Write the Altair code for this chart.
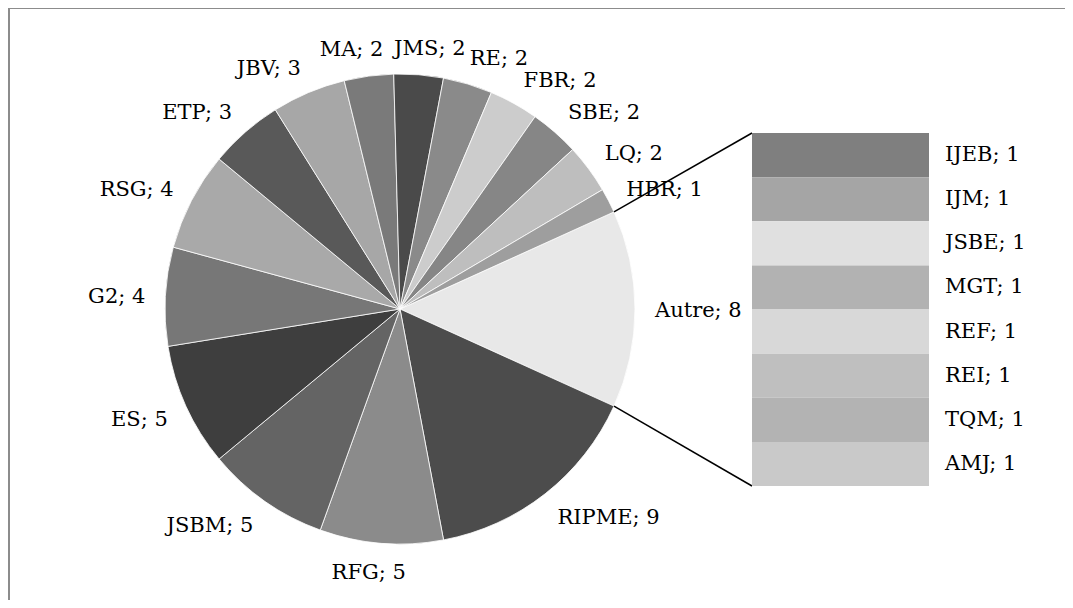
import math
import altair as alt
import pandas as pd

# ---- data ----
pie_names = ["Autre", "RIPME", "RFG", "JSBM", "ES", "G2", "RSG", "ETP", "JBV",
             "MA", "JMS", "RE", "FBR", "SBE", "LQ", "HBR"]
pie_values = [8, 9, 5, 5, 5, 4, 4, 3, 3, 2, 2, 2, 2, 2, 2, 1]
pie_colors = ["#e8e8e8", "#4c4c4c", "#8b8b8b", "#646464", "#3e3e3e", "#777777",
              "#a9a9a9", "#595959", "#a7a7a7", "#7a7a7a", "#4a4a4a", "#8a8a8a",
              "#cccccc", "#868686", "#bebebe", "#9e9e9e"]

bar_names = ["IJEB", "IJM", "JSBE", "MGT", "REF", "REI", "TQM", "AMJ"]
bar_values = [1, 1, 1, 1, 1, 1, 1, 1]
bar_colors = ["#7f7f7f", "#a5a5a5", "#e0e0e0", "#b2b2b2", "#d8d8d8", "#bfbfbf",
              "#b3b3b3", "#c9c9c9"]

# ---- layout ----
W, H = 1057, 592
CX, CY, R = 392, 301, 235      # pie centre / radius (px)
RL = 255                        # label anchor radius
BX0, BX1, BY0, BY1 = 744, 921, 125, 478   # bar column box
FONT = "DejaVu Serif"
FS = 21

total = sum(pie_values)
other = pie_values[pie_names.index("Autre")]
start = math.pi / 2 - math.pi * other / total   # "Autre" centred on the right
a1 = start + 2 * math.pi * other / total

pie_df = pd.DataFrame({
    "idx": list(range(len(pie_names))),
    "name": pie_names,
    "value": pie_values,
})
pie_df["label"] = pie_df["name"] + "; " + pie_df["value"].astype(str)

bar_df = pd.DataFrame({
    "idx": list(range(len(bar_names))),
    "name": bar_names,
    "value": bar_values,
})
bar_df["label"] = bar_df["name"] + "; " + bar_df["value"].astype(str)

pie_color = alt.Color("name:N", scale=alt.Scale(domain=pie_names, range=pie_colors), legend=None)
bar_color = alt.Color("name:N", scale=alt.Scale(domain=bar_names, range=bar_colors), legend=None)

base_pie = alt.Chart(pie_df)

pie = base_pie.mark_arc(radius=R, stroke="#ffffff", strokeWidth=0.8).encode(
    theta=alt.Theta("value:Q", stack=True,
                    scale=alt.Scale(range=[start, start + 2 * math.pi])),
    order=alt.Order("idx:Q"),
    color=pie_color,
    x=alt.value(CX),
    y=alt.value(CY),
)

lab_base = base_pie.transform_joinaggregate(
    total="sum(value)"
).transform_window(
    cum="sum(value)", sort=[alt.SortField("idx")], frame=[None, 0]
).transform_calculate(
    mid=f"{start} + 2*PI*(datum.cum - datum.value/2)/datum.total"
).transform_calculate(
    px=f"{CX} + {RL}*sin(datum.mid)",
    py=f"{CY} - {RL}*cos(datum.mid)",
    c="clamp(3*sin(datum.mid), -1, 1)",
    w="length(datum.label)*11.5",
    s="sin(datum.mid)",
).transform_calculate(
    lxl="datum.px + datum.w/2*(datum.c - 1)",
    lxr="datum.px + datum.w/2*(datum.c + 1)",
    ly="datum.py - 8*cos(datum.mid) + 2",
)

lab_right = lab_base.transform_filter("datum.s >= 0").mark_text(
    align="left", baseline="middle", font=FONT, fontSize=FS, color="#000000"
).encode(
    x=alt.X("lxl:Q", scale=None, axis=None),
    y=alt.Y("ly:Q", scale=None, axis=None),
    text="label:N",
)
lab_left = lab_base.transform_filter("datum.s < 0").mark_text(
    align="right", baseline="middle", font=FONT, fontSize=FS, color="#000000"
).encode(
    x=alt.X("lxr:Q", scale=None, axis=None),
    y=alt.Y("ly:Q", scale=None, axis=None),
    text="label:N",
)

ybar = alt.Scale(domain=[0, sum(bar_values)], range=[BY0, BY1])
bar_base = alt.Chart(bar_df).transform_window(
    cum="sum(value)", sort=[alt.SortField("idx")], frame=[None, 0]
).transform_calculate(
    y0="datum.cum - datum.value",
    ym="datum.cum - datum.value/2",
)
bars = bar_base.mark_rect().encode(
    x=alt.value(BX0),
    x2=alt.value(BX1),
    y=alt.Y("y0:Q", scale=ybar, axis=None),
    y2="cum:Q",
    color=bar_color,
)
bar_labels = bar_base.mark_text(
    align="left", baseline="middle", font=FONT, fontSize=FS, color="#000000"
).encode(
    x=alt.value(BX1 + 16),
    y=alt.Y("ym:Q", scale=ybar, axis=None),
    text="label:N",
)

# connector lines from "Autre" slice edges to bar corners
p0 = (CX + R * math.sin(start), CY - R * math.cos(start))
p1 = (CX + R * math.sin(a1), CY - R * math.cos(a1))
conn_df = pd.DataFrame({"k": [0]})
line_top = alt.Chart(conn_df).mark_rule(color="#000000", strokeWidth=1.5).encode(
    x=alt.value(p0[0]), y=alt.value(p0[1]), x2=alt.value(BX0), y2=alt.value(BY0))
line_bot = alt.Chart(conn_df).mark_rule(color="#000000", strokeWidth=1.5).encode(
    x=alt.value(p1[0]), y=alt.value(p1[1]), x2=alt.value(BX0), y2=alt.value(BY1))

frame_top = alt.Chart(conn_df).mark_rule(color="#8c8c8c", strokeWidth=2).encode(
    x=alt.value(0), x2=alt.value(W + 10), y=alt.value(0))
frame_left = alt.Chart(conn_df).mark_rule(color="#8c8c8c", strokeWidth=2).encode(
    x=alt.value(1), y=alt.value(0), y2=alt.value(H + 10))

chart = alt.layer(
    frame_top, frame_left, pie, line_top, line_bot, lab_right, lab_left, bars, bar_labels
).resolve_scale(
    x="independent", y="independent", color="independent", theta="independent"
).properties(
    width=W, height=H, padding=0, autosize="none", background="#ffffff"
).configure_view(strokeWidth=0)

chart.save("out.html", embed_options={"renderer": "svg", "actions": False})
